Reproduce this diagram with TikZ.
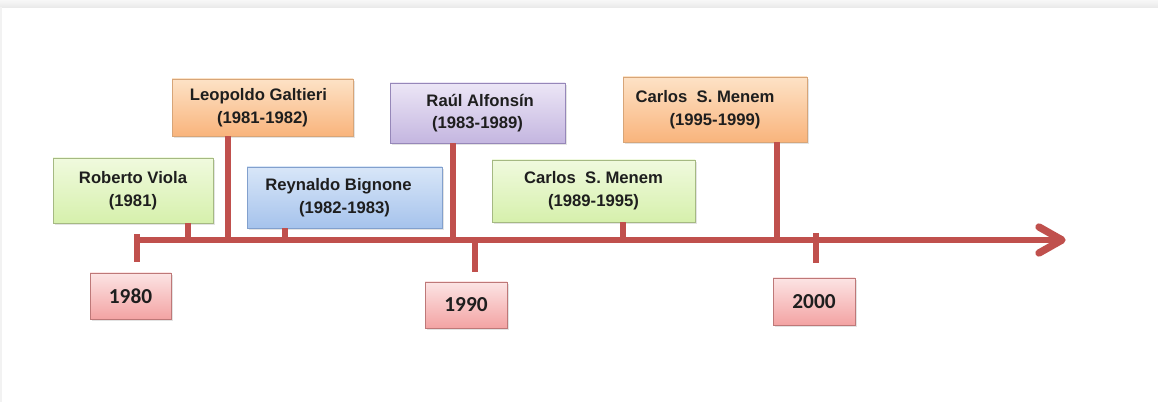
\documentclass[tikz,border=0pt]{standalone}
\usepackage{fontspec}
\setmainfont{Liberation Sans}
\newfontfamily\yearfont{Carlito}
\usetikzlibrary{shadows}
\definecolor{tl}{RGB}{192,80,77}
\definecolor{gTop}{RGB}{240,250,222}
\definecolor{gBot}{RGB}{214,240,172}
\definecolor{gBd}{RGB}{165,185,130}
\definecolor{oTop}{RGB}{253,226,198}
\definecolor{oBot}{RGB}{249,180,124}
\definecolor{oBd}{RGB}{215,165,120}
\definecolor{bTop}{RGB}{216,230,248}
\definecolor{bBot}{RGB}{166,195,236}
\definecolor{bBd}{RGB}{130,160,205}
\definecolor{pTop}{RGB}{236,230,246}
\definecolor{pBot}{RGB}{196,182,224}
\definecolor{pBd}{RGB}{150,135,185}
\definecolor{rTop}{RGB}{252,228,228}
\definecolor{rBot}{RGB}{243,163,163}
\definecolor{rBd}{RGB}{190,120,120}
\definecolor{txt}{RGB}{30,30,30}
\tikzset{
  pbox/.style={draw, line width=0.6pt, align=center, inner sep=0pt,
    font=\fontsize{12.5}{17}\selectfont\bfseries, text=txt,
    drop shadow={shadow xshift=1.2pt, shadow yshift=-1.4pt, opacity=0.22}},
  gbox/.style={pbox, top color=gTop, bottom color=gBot, draw=gBd},
  obox/.style={pbox, top color=oTop, bottom color=oBot, draw=oBd},
  bbox/.style={pbox, top color=bTop, bottom color=bBot, draw=bBd},
  vbox/.style={pbox, top color=pTop, bottom color=pBot, draw=pBd},
  ybox/.style={pbox, top color=rTop, bottom color=rBot, draw=rBd,
    font=\yearfont\fontsize{16}{18}\selectfont\bfseries},
  tline/.style={draw=tl, line width=4.5pt},
  stem/.style={draw=tl, line width=4.2pt},
}
\begin{document}
\begin{tikzpicture}[x=0.75pt,y=-0.75pt]
\useasboundingbox (0,0) rectangle (1158,402);
\fill[white] (0,0) rectangle (1158,402);
\shade[top color=gray!6, bottom color=gray!17] (0,0) rectangle (1158,7.5);
\fill[gray!10] (0,7.5) rectangle (2,402);

% boxes
\node[gbox, minimum width=120pt, minimum height=48.75pt] (viola) at (133,190.5) {Roberto Viola\\(1981)};
\node[obox, minimum width=135.75pt, minimum height=42.75pt] (galtieri) at (262.5,107.5) {Leopoldo Galtieri\hspace*{6pt}\\(1981-1982)};
\node[bbox, minimum width=146.25pt, minimum height=45.75pt] (bignone) at (344.5,197.5) {Reynaldo Bignone\hspace*{9pt}\\(1982-1983)};
\node[vbox, minimum width=131.25pt, minimum height=45pt] (alfonsin) at (477.5,113) {\hspace*{4pt}Raúl Alfonsín\\(1983-1989)};
\node[gbox, minimum width=152.25pt, minimum height=46.5pt] (menemA) at (593.5,191) {Carlos~ S. Menem\\(1989-1995)};
\node[obox, minimum width=138pt, minimum height=48.75pt] (menemB) at (715,109.5) {Carlos~ S. Menem\hspace*{15pt}\\(1995-1999)};

\node[ybox, minimum width=60.75pt, minimum height=34.5pt] (y1980) at (130.5,296) {1980};
\node[ybox, minimum width=61.5pt, minimum height=34.5pt] (y1990) at (466,305) {1990};
\node[ybox, minimum width=61.5pt, minimum height=35.25pt] (y2000) at (814,301.5) {2000};

% timeline points
\coordinate (start) at (137,240);
\coordinate (tip) at (1062,240);
\coordinate (pViola) at (188,240);
\coordinate (pGaltieri) at (228,240);
\coordinate (pBignone) at (285,240);
\coordinate (pAlfonsin) at (453,240);
\coordinate (pMenemA) at (623,240);
\coordinate (pMenemB) at (777,240);
\coordinate (a1) at (1039,227);
\coordinate (a2) at (1039,253);

% stems
\draw[stem] (viola.south -| pViola) -- (pViola);
\draw[stem] (galtieri.south -| pGaltieri) -- (pGaltieri);
\draw[stem] (bignone.south -| pBignone) -- (pBignone);
\draw[stem] (alfonsin.south -| pAlfonsin) -- (pAlfonsin);
\draw[stem] (menemA.south -| pMenemA) -- (pMenemA);
\draw[stem] (menemB.south -| pMenemB) -- (pMenemB);

% main line and arrow
\draw[tline] (start) -- (tip);
\draw[tline, line width=5.5pt, line cap=round, line join=round] (a1) -- (tip) -- (a2);

% year ticks
\draw[stem] (137,234) -- (137,262);
\draw[stem] (475,240) -- (475,272);
\draw[stem] (816,233) -- (816,263);
\end{tikzpicture}
\end{document}
